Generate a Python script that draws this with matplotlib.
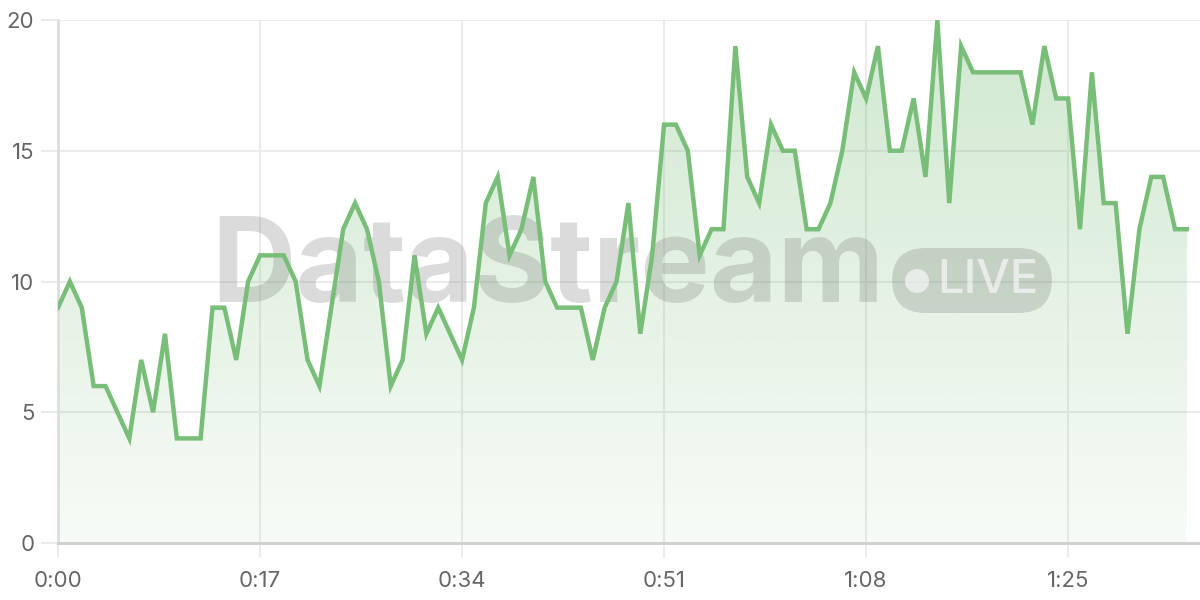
import matplotlib
matplotlib.use("Agg")
import matplotlib.pyplot as plt
import numpy as np
from matplotlib.patches import FancyBboxPatch, Ellipse

seconds = list(range(96))
values = [9, 10, 9, 6, 6, 5, 4, 7, 5, 8, 4, 4, 4, 9, 9, 7, 10, 11, 11, 11,
          10, 7, 6, 9, 12, 13, 12, 10, 6, 7, 11, 8, 9, 8, 7, 9, 13, 14, 11, 12,
          14, 10, 9, 9, 9, 7, 9, 10, 13, 8, 11, 16, 16, 15, 11, 12, 12, 19, 14, 13,
          16, 15, 15, 12, 12, 13, 15, 18, 17, 19, 15, 15, 17, 14, 20, 13, 19, 18, 18, 18,
          18, 18, 16, 19, 17, 17, 12, 18, 13, 13, 8, 12, 14, 14, 12, 12]
x_ticks = [0, 17, 34, 51, 68, 85]
x_tick_labels = ["0:00", "0:17", "0:34", "0:51", "1:08", "1:25"]
y_ticks = [0, 5, 10, 15, 20]

plt.rcParams['font.family'] = ['Inter', 'DejaVu Sans']

fig = plt.figure(figsize=(12, 6), dpi=100)
ax = fig.add_axes([58/1200, 1 - 543/600, 1 - 58/1200, (543 - 20)/600])

line_c = (120/255, 190/255, 120/255)
x = np.array(seconds, dtype=float)
y = np.array(values, dtype=float)

xmax = 96.1
ax.set_xlim(0, xmax)
ax.set_ylim(0, 20)

# gradient fill
poly = ax.fill_between(x, y, 0, color='none', lw=0)
grad = np.zeros((256, 1, 4))
grad[:, 0, 0] = line_c[0]
grad[:, 0, 1] = line_c[1]
grad[:, 0, 2] = line_c[2]
grad[:, 0, 3] = np.linspace(0.35, 0.06, 256)
im = ax.imshow(grad, extent=[0, xmax, 0, 20], origin='upper', aspect='auto', zorder=1)
path = poly.get_paths()[0]
im.set_clip_path(path, transform=ax.transData)

ax.plot(x, y, color=line_c, lw=3.2, zorder=6, solid_joinstyle='miter')

# grid
ax.set_xticks(x_ticks)
ax.set_xticklabels(x_tick_labels)
ax.set_yticks(y_ticks)
ax.grid(True, color='#ebebeb', lw=1.5, zorder=0)
ax.set_axisbelow(True)
for s in ['top', 'right']:
    ax.spines[s].set_visible(False)
ax.spines['left'].set_color('#dddddd')
ax.spines['left'].set_linewidth(2)
ax.spines['bottom'].set_color('#cfcfcf')
ax.spines['bottom'].set_linewidth(2)
ax.tick_params(axis='x', length=11, width=1.5, color='#ebebeb', pad=9,
               labelsize=16, labelcolor='#666666')
ax.tick_params(axis='y', length=12, width=1.5, color='#ebebeb', pad=5,
               labelsize=16, labelcolor='#666666')

# watermark (under the line, over the fill)
wm_c = (0.45, 0.45, 0.45)
ax.text(211/1200, 1 - 271/600, "DataStream", fontsize=84, fontweight='bold',
        color=wm_c, alpha=0.25, ha='left', va='center', zorder=3,
        transform=fig.transFigure, clip_on=False)
pill = FancyBboxPatch((892/1200, 1 - 313/600), (1052 - 892)/1200, (313 - 248)/600,
                      boxstyle="round,pad=0,rounding_size=0.028",
                      transform=fig.transFigure, facecolor=wm_c,
                      alpha=0.25, edgecolor='none', zorder=3,
                      mutation_aspect=2, clip_on=False)
ax.add_artist(pill)
dot = Ellipse((917/1200, 1 - 281/600), 24/1200, 24/600, transform=fig.transFigure,
              facecolor='white', alpha=0.6, edgecolor='none', zorder=4, clip_on=False)
ax.add_artist(dot)
ax.text(937/1200, 1 - 281/600, "LIVE", fontsize=34, fontweight='medium',
        color='white', alpha=0.6, ha='left', va='center', zorder=4,
        transform=fig.transFigure, clip_on=False)

fig.savefig("out.png", dpi=100)
